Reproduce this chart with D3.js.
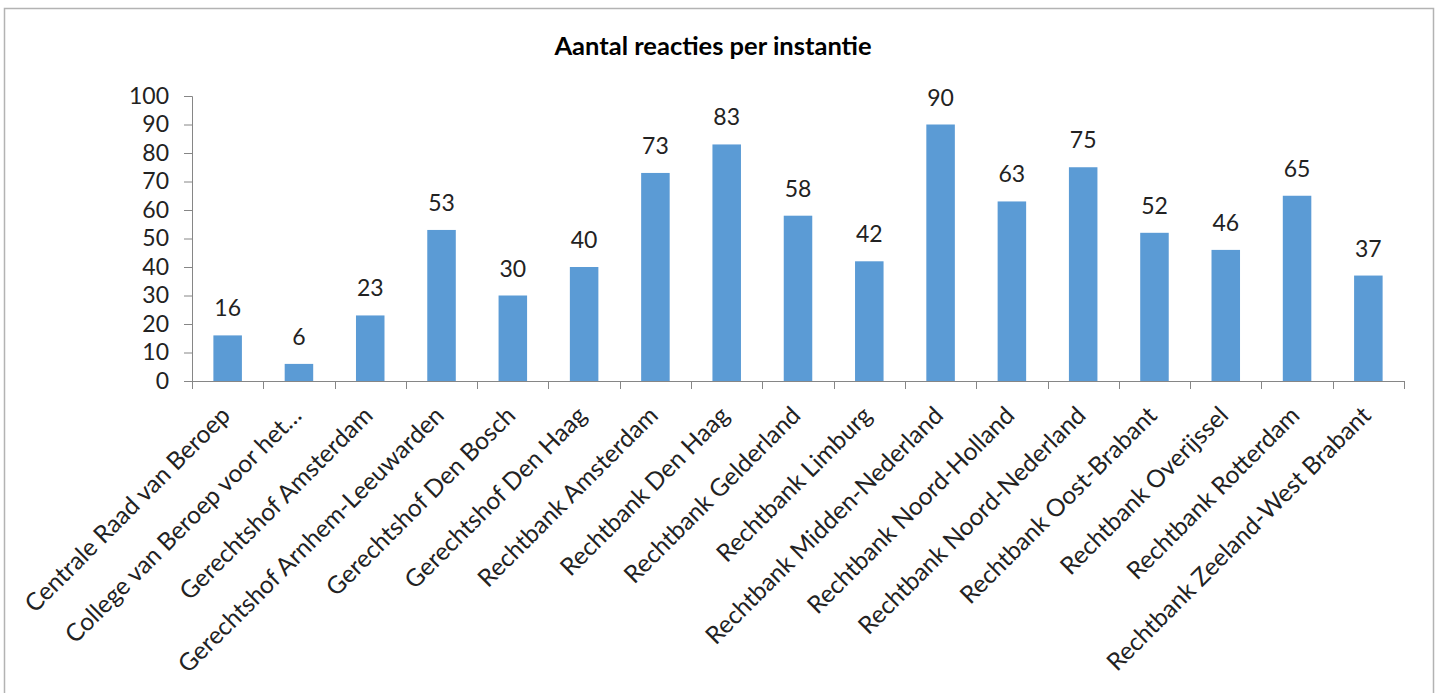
<!DOCTYPE html>
<html><head><meta charset="utf-8">
<script src="https://cdn.jsdelivr.net/npm/d3@7"></script>
<style>
body{margin:0;background:#fff;}
svg{display:block;font-family:Lato,"Open Sans",sans-serif;}
</style></head>
<body><svg id="c" width="1439" height="693"></svg>
<script>
const title = "Aantal reacties per instantie";
const categories = ["Centrale Raad van Beroep","College van Beroep voor het…","Gerechtshof Amsterdam","Gerechtshof Arnhem-Leeuwarden","Gerechtshof Den Bosch","Gerechtshof Den Haag","Rechtbank Amsterdam","Rechtbank Den Haag","Rechtbank Gelderland","Rechtbank Limburg","Rechtbank Midden-Nederland","Rechtbank Noord-Holland","Rechtbank Noord-Nederland","Rechtbank Oost-Brabant","Rechtbank Overijssel","Rechtbank Rotterdam","Rechtbank Zeeland-West Brabant"];
const values = [16,6,23,53,30,40,73,83,58,42,90,63,75,52,46,65,37];
const yTicks = [0,10,20,30,40,50,60,70,80,90,100];

const svg = d3.select("#c");
svg.append("rect").attr("x",4.5).attr("y",8.5).attr("width",1429).attr("height",700)
  .attr("fill","#fff").attr("stroke","#b3b3b3").attr("stroke-width",1.5);

const m = {l:192, r:1404, t:96, b:381};
const x = d3.scaleBand().domain(categories).range([m.l,m.r]).paddingInner(0.6).paddingOuter(0.3);
const y = d3.scaleLinear().domain([0,100]).range([m.b,m.t]);
const FS = 23;

svg.append("text").attr("x",713).attr("y",55).attr("text-anchor","middle")
  .attr("font-size",25.5).attr("font-weight","bold").attr("fill","#000").text(title);

// y axis
const ya = svg.append("g").attr("transform",`translate(${m.l},0)`)
  .call(d3.axisLeft(y).tickValues(yTicks).tickSize(8).tickPadding(15));
ya.select(".domain").attr("stroke","#868686");
ya.selectAll(".tick line").attr("stroke","#868686");
ya.selectAll(".tick text").attr("font-size",FS).attr("fill","#222").attr("font-family","Lato,'Open Sans',sans-serif");

// x axis line and ticks at band boundaries
const xg = svg.append("g");
xg.append("line").attr("x1",m.l).attr("x2",m.r).attr("y1",m.b+0.5).attr("y2",m.b+0.5).attr("stroke","#868686");
const bounds = d3.range(categories.length+1).map(i=> m.l + i*(m.r-m.l)/categories.length);
xg.selectAll("line.t").data(bounds).enter().append("line").attr("class","t")
  .attr("x1",d=>Math.round(d)+0.5).attr("x2",d=>Math.round(d)+0.5).attr("y1",m.b).attr("y2",m.b+8).attr("stroke","#868686");

// bars
svg.append("g").selectAll("rect").data(values).enter().append("rect")
  .attr("x",(d,i)=>x(categories[i])).attr("width",x.bandwidth())
  .attr("y",d=>y(d)).attr("height",d=>y(0)-y(d)).attr("fill","#5B9BD5");

// value labels
svg.append("g").selectAll("text").data(values).enter().append("text")
  .attr("x",(d,i)=>x(categories[i])+x.bandwidth()/2).attr("y",d=>y(d)-19)
  .attr("text-anchor","middle").attr("font-size",FS).attr("fill","#222").text(d=>d);

// category labels
svg.append("g").selectAll("text").data(categories).enter().append("text")
  .attr("transform",(d)=>`translate(${x(d)+x.bandwidth()/2+4},${m.b+36}) rotate(-45)`)
  .attr("text-anchor","end").attr("font-size",24.5).attr("fill","#222").text(d=>d);
</script></body></html>
